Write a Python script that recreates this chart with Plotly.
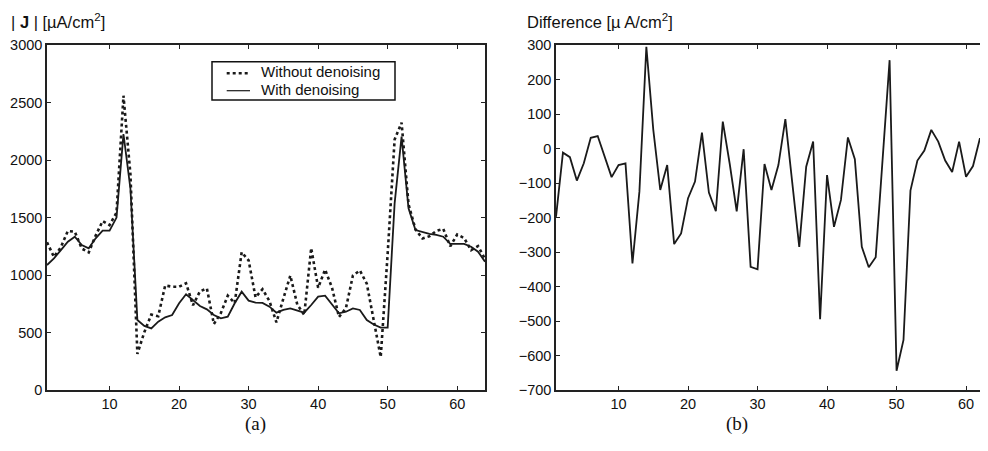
import plotly.graph_objects as go

# sample index along the profile
samples = list(range(1, 65))

# |J| without / with denoising, uA/cm^2
without_denoising = [1285, 1157, 1242, 1383, 1376, 1230, 1196, 1343, 1469, 1434,
                     1542, 2559, 1875, 314, 503, 656, 642, 909, 898, 898,
                     928, 737, 858, 883, 574, 668, 820, 756, 1198, 1127,
                     805, 877, 773, 588, 796, 995, 743, 653, 1234, 889,
                     1047, 888, 635, 712, 995, 1040, 924, 590, 286, 1186,
                     2178, 2325, 1615, 1397, 1317, 1337, 1383, 1401, 1250, 1352,
                     1321, 1216, 1251, 1140]
with_denoising = [1087, 1145, 1217, 1290, 1333, 1261, 1232, 1319, 1386, 1386,
                  1499, 2226, 1750, 609, 557, 536, 594, 632, 652, 754,
                  832, 783, 730, 701, 652, 623, 638, 754, 855, 777,
                  760, 757, 725, 673, 696, 710, 690, 673, 739, 812,
                  820, 739, 667, 681, 710, 696, 609, 570, 542, 542,
                  1623, 2203, 1580, 1391, 1371, 1357, 1348, 1333, 1270, 1270,
                  1270, 1246, 1203, 1116]

# difference panel
difference = [-198, -12, -25, -93, -43, 31, 36, -24, -83, -48,
              -43, -333, -125, 295, 54, -120, -48, -277, -246, -144,
              -96, 46, -128, -182, 78, -45, -182, -2, -343, -350,
              -45, -120, -48, 85, -100, -285, -53, 20, -495, -77,
              -227, -149, 32, -31, -285, -344, -315, -20, 256, -644,
              -555, -122, -35, -6, 54, 20, -35, -68, 20, -82,
              -51, 30, -48, -24]

x_ticks = [10, 20, 30, 40, 50, 60]
left_y_ticks = [0, 500, 1000, 1500, 2000, 2500, 3000]
right_y_ticks = [-700, -600, -500, -400, -300, -200, -100, 0, 100, 200, 300]

# page is 988x451, the body margin puts the figure 8px in on each side
OFF = 8
W, H = 988 - 2 * OFF, 451 - 2 * OFF


def px(x):
    # page pixel -> paper x
    return (x - OFF) / W


def py(y):
    # page pixel -> paper y
    return (H - (y - OFF)) / H


ink = "#1a1a1a"
tick_font = dict(family="Liberation Sans, Arial, sans-serif", size=14.5, color="#111")
leg_font = dict(family="Liberation Sans, Arial, sans-serif", size=15, color="#111")
title_font = dict(family="Liberation Sans, Arial, sans-serif", size=16.5, color="#111")

fig = go.Figure()

fig.add_trace(go.Scatter(x=samples, y=without_denoising, mode="lines",
                         name="Without denoising",
                         line=dict(color=ink, width=2.6, dash="dot"),
                         xaxis="x", yaxis="y"))
fig.add_trace(go.Scatter(x=samples, y=with_denoising, mode="lines",
                         name="With denoising",
                         line=dict(color=ink, width=1.8),
                         xaxis="x", yaxis="y"))
fig.add_trace(go.Scatter(x=samples, y=difference, mode="lines",
                         name="Difference",
                         line=dict(color=ink, width=1.8),
                         xaxis="x2", yaxis="y2"))

axis_style = dict(showline=True, linecolor="#222", linewidth=1.5,
                  ticks="inside", ticklen=4, tickcolor="#222",
                  showgrid=False, zeroline=False, tickfont=tick_font,
                  automargin=False)

y_dom = [py(390), py(45)]
px_per_unit = 6.95

fig.update_layout(
    width=W, height=H,
    margin=dict(l=0, r=0, t=0, b=0, pad=0),
    paper_bgcolor="white", plot_bgcolor="white",
    font=tick_font,
    showlegend=False,
    xaxis=dict(domain=[px(47), px(485)], range=[1, 64], tickvals=x_ticks,
               mirror="ticks", anchor="y", **axis_style),
    yaxis=dict(domain=y_dom, range=[0, 3000], tickvals=left_y_ticks,
               mirror="ticks", anchor="x", **axis_style),
    xaxis2=dict(domain=[px(556), 1.0],
                range=[1, 1 + (W + OFF - 556) / px_per_unit], tickvals=x_ticks,
                mirror="ticks", anchor="y2", **axis_style),
    yaxis2=dict(domain=y_dom, range=[-700, 300], tickvals=right_y_ticks,
                anchor="x2", **axis_style),
)

# legend box, drawn like the original Matlab legend
fig.add_shape(type="rect", xref="paper", yref="paper",
              x0=px(212), x1=px(395), y0=py(100), y1=py(61.7),
              line=dict(color="#111", width=1.5), fillcolor="white", layer="above")
fig.add_shape(type="line", xref="paper", yref="paper",
              x0=px(226.7), x1=px(250), y0=py(73.3), y1=py(73.3),
              line=dict(color=ink, width=2.6, dash="dot"), layer="above")
fig.add_shape(type="line", xref="paper", yref="paper",
              x0=px(226.7), x1=px(250), y0=py(90.7), y1=py(90.7),
              line=dict(color=ink, width=1.2), layer="above")
fig.add_annotation(text="Without denoising", x=px(259), y=py(71.5),
                   xref="paper", yref="paper", xanchor="left", yanchor="middle",
                   showarrow=False, font=leg_font)
fig.add_annotation(text="With denoising", x=px(259), y=py(89),
                   xref="paper", yref="paper", xanchor="left", yanchor="middle",
                   showarrow=False, font=leg_font)

# axis titles above each panel
fig.add_annotation(text="| <b>J</b> | [\u00b5A/cm<sup>2</sup>]", x=px(9), y=py(21.5),
                   xref="paper", yref="paper", xanchor="left", yanchor="middle",
                   showarrow=False, font=title_font)
fig.add_annotation(text="Difference [\u00b5 A/cm<sup>2</sup>]", x=px(525), y=py(21.5),
                   xref="paper", yref="paper", xanchor="left", yanchor="middle",
                   showarrow=False, font=title_font)

serif = dict(family="Liberation Serif, Times New Roman, serif", size=19, color="#111")
fig.add_annotation(text="(a)", x=px(242.5), y=py(424), xref="paper", yref="paper",
                   yanchor="middle", showarrow=False, font=serif)
fig.add_annotation(text="(b)", x=px(750), y=py(424), xref="paper", yref="paper",
                   yanchor="middle", showarrow=False, font=serif)

fig.write_html("out.html")
